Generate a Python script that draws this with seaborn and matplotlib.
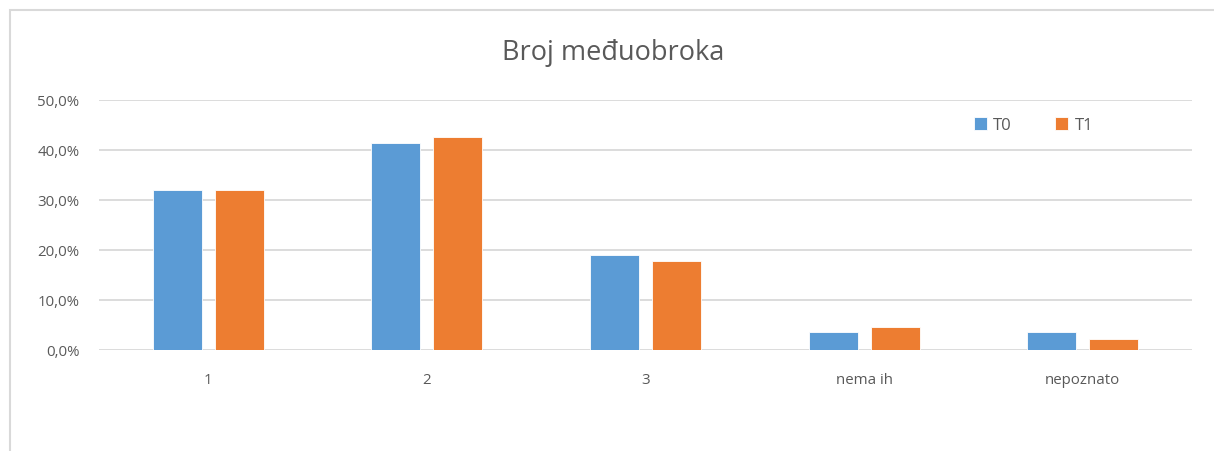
import matplotlib
matplotlib.use("Agg")
import matplotlib.pyplot as plt
import seaborn as sns
import pandas as pd
from matplotlib.patches import Rectangle
from matplotlib.ticker import FuncFormatter

# data (percent)
categories = ["1", "2", "3", "nema ih", "nepoznato"]
t0 = [32.0, 41.4, 18.9, 3.5, 3.5]
t1 = [32.0, 42.5, 17.7, 4.6, 2.1]
series = ["T0", "T1"]
colors = ["#5B9BD5", "#ED7D31"]

df = pd.DataFrame({
    "kategorija": categories * 2,
    "vrijednost": t0 + t1,
    "serija": [series[0]] * len(categories) + [series[1]] * len(categories),
})

sns.set_style("white")
plt.rcParams["font.family"] = ["Open Sans", "DejaVu Sans"]
grey = "#595959"

fig = plt.figure(figsize=(12.14, 4.52), dpi=100)
ax = fig.add_axes([0.0813, 0.2240, 0.9006, 0.5530])

sns.barplot(data=df, x="kategorija", y="vrijednost", hue="serija",
            palette=colors, width=0.567, gap=0.21, ax=ax,
            saturation=1, edgecolor="white", linewidth=0.6)

ax.set_ylim(0, 50)
ax.set_yticks([0, 10, 20, 30, 40, 50])
ax.yaxis.set_major_formatter(FuncFormatter(lambda v, p: f"{v:.1f}%".replace(".", ",")))
ax.grid(axis="y", color="#d9d9d9", linewidth=1.3)
ax.set_axisbelow(True)
for s in ax.spines.values():
    s.set_visible(False)
ax.tick_params(axis="both", length=0, labelsize=10.8, colors=grey)
ax.tick_params(axis="y", pad=14)
ax.tick_params(axis="x", pad=16)
ax.set_xlabel("")
ax.set_ylabel("")

fig.text(0.505, 0.882, "Broj međuobroka", ha="center", va="center",
         fontsize=19.5, color=grey)

leg = ax.legend(loc="center", bbox_to_anchor=(0.855, 0.898), ncol=2,
                frameon=False, handlelength=0.75, handleheight=0.75,
                handletextpad=0.4, columnspacing=2.6, fontsize=12)
for t in leg.get_texts():
    t.set_color(grey)

# outer chart frame
fig.patches.append(Rectangle((10 / 1214, -0.1), 1.2, 1 - 11 / 452 + 0.1,
                             transform=fig.transFigure, fill=False,
                             edgecolor="#d9d9d9", linewidth=1.5))

fig.savefig("out.png", dpi=100)
